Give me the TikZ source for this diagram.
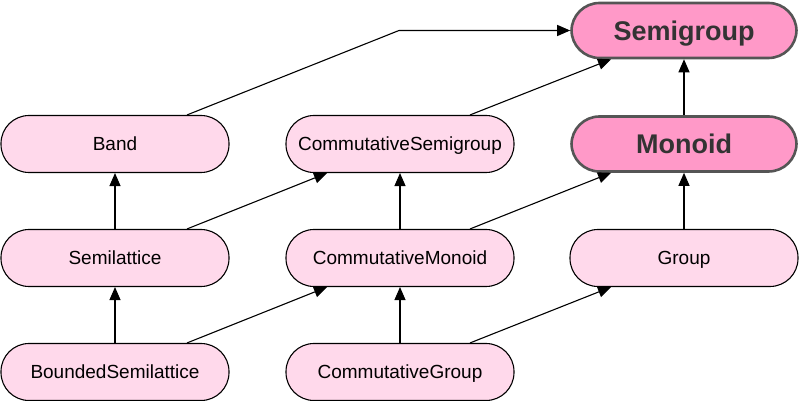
\documentclass[tikz,border=0pt]{standalone}
\usepackage{fontspec}
\setmainfont{Liberation Sans}
\usetikzlibrary{arrows.meta}
\definecolor{lightpk}{HTML}{FFD9EB}
\definecolor{darkpk}{HTML}{FF99C8}
\definecolor{bordergray}{HTML}{555555}
\begin{document}
\begin{tikzpicture}[x=1pt,y=1pt,
  plain/.style={draw=black, line width=1.1pt, fill=lightpk, rounded corners=28pt,
    minimum width=228pt, minimum height=57pt, inner sep=0pt, text depth=0pt,
    font=\fontsize{19}{22}\selectfont},
  strong/.style={draw=bordergray, line width=2.6pt, fill=darkpk, rounded corners=28pt,
    minimum width=225pt, minimum height=55pt, inner sep=0pt, text depth=0pt,
    font=\fontsize{27}{32}\selectfont\bfseries, text=black!80},
  link/.style={draw=black, line width=1.1pt, -{Triangle[length=13pt,width=11pt]}}]
\useasboundingbox (0,0) rectangle (800,401);
\node[strong] (semigroup) at (684,370.5) {Semigroup};
\node[plain] (band) at (115,257) {Band};
\node[plain] (csemi) at (400,257) {CommutativeSemigroup};
\node[strong] (monoid) at (684,257) {Monoid};
\node[plain] (semilat) at (115,143) {Semilattice};
\node[plain] (cmon) at (400,143) {CommutativeMonoid};
\node[plain] (group) at (684,143) {Group};
\node[plain] (bsemilat) at (115,29) {BoundedSemilattice};
\node[plain] (cgroup) at (400,29) {CommutativeGroup};
\coordinate (bend) at (399,370.5);
\draw[link] ([xshift=72pt]band.north) -- (bend) -- (semigroup.west);
\draw[link] ([xshift=70pt]csemi.north) -- ([xshift=-73pt]semigroup.south);
\draw[link] (monoid) -- (semigroup);
\draw[link] (semilat) -- (band);
\draw[link] ([xshift=72pt]semilat.north) -- ([xshift=-73pt]csemi.south);
\draw[link] (cmon) -- (csemi);
\draw[link] ([xshift=70pt]cmon.north) -- ([xshift=-73pt]monoid.south);
\draw[link] (group) -- (monoid);
\draw[link] (bsemilat) -- (semilat);
\draw[link] ([xshift=72pt]bsemilat.north) -- ([xshift=-73pt]cmon.south);
\draw[link] (cgroup) -- (cmon);
\draw[link] ([xshift=70pt]cgroup.north) -- ([xshift=-73pt]group.south);
\end{tikzpicture}
\end{document}
